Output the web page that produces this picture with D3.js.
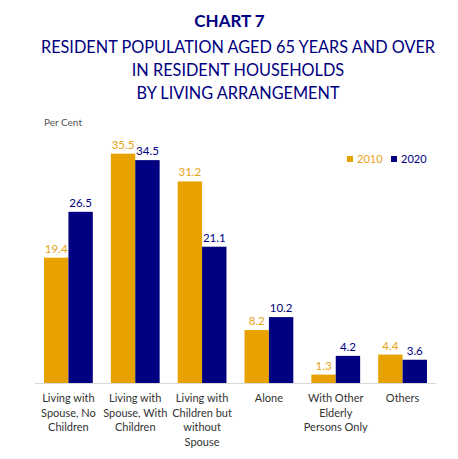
<!DOCTYPE html>
<html><head><meta charset="utf-8">
<script src="https://cdn.jsdelivr.net/npm/d3@7"></script>
<style>body{margin:0;background:#fff}svg{display:block}</style>
</head><body><svg id="c" width="458" height="459"></svg>
<script>
const categories = [
  ["Living with","Spouse, No","Children"],
  ["Living with","Spouse, With","Children"],
  ["Living with","Children but","without","Spouse"],
  ["Alone"],
  ["With Other","Elderly","Persons Only"],
  ["Others"]
];
const series = ["2010","2020"];
const values2010 = [19.4, 35.5, 31.2, 8.2, 1.3, 4.4];
const values2020 = [26.5, 34.5, 21.1, 10.2, 4.2, 3.6];
const colors = ["#E8A200", "#000080"];
const labelColors = ["#E8A317", "#000080"];
const titleLines = ["RESIDENT POPULATION AGED 65 YEARS AND OVER","IN RESIDENT HOUSEHOLDS","BY LIVING ARRANGEMENT"];

const svg = d3.select("#c");
const font = "Lato, 'Open Sans', sans-serif";
const base = 383;
const x0 = d3.scaleBand().domain(d3.range(categories.length)).range([35, 436]).paddingInner(0.27).paddingOuter(0.135);
const x1 = d3.scaleBand().domain(series).range([0, x0.bandwidth()]);
const y = d3.scaleLinear().domain([0, 40]).range([base, base - 40 * 6.46]);

svg.append("text").attr("x", 229.5).attr("y", 27).attr("text-anchor", "middle")
  .attr("font-family", font).attr("font-weight", "bold").attr("font-size", 17).attr("fill", "#000080").text("CHART 7");
titleLines.forEach((t, i) => {
  svg.append("text").attr("x", 238).attr("y", 53 + i * 23).attr("text-anchor", "middle")
    .attr("font-family", font).attr("font-size", 16.3).attr("fill", "#000080").text(t);
});
svg.append("text").attr("x", 44).attr("y", 126).attr("font-family", font).attr("font-size", 10).attr("fill", "#555").text("Per Cent");

// legend
series.forEach((s, i) => {
  const lx = [347, 391][i];
  svg.append("rect").attr("x", lx).attr("y", 156).attr("width", 6).attr("height", 6).attr("fill", colors[i]);
  svg.append("text").attr("x", lx + 10).attr("y", 163).attr("font-family", font).attr("font-size", 11).attr("fill", labelColors[i]).text(s);
});

const data = [values2010, values2020];
const g = svg.append("g");
categories.forEach((c, ci) => {
  series.forEach((s, si) => {
    const v = data[si][ci];
    const bx = x0(ci) + x1(s);
    g.append("rect").attr("x", bx).attr("y", y(v)).attr("width", x1.bandwidth()).attr("height", y(0) - y(v)).attr("fill", colors[si]);
    g.append("text").attr("x", bx + x1.bandwidth() / 2).attr("y", y(v) - 5).attr("text-anchor", "middle")
      .attr("font-family", font).attr("font-size", 11.5).attr("fill", labelColors[si]).text(v.toFixed(1));
  });
  const cx = x0(ci) + x0.bandwidth() / 2;
  c.forEach((line, li) => {
    svg.append("text").attr("x", cx).attr("y", 402 + li * 14.5).attr("text-anchor", "middle")
      .attr("font-family", font).attr("font-size", 11).attr("fill", "#333").text(line);
  });
});
svg.append("line").attr("x1", 35).attr("x2", 436).attr("y1", base + 0.5).attr("y2", base + 0.5).attr("stroke", "#d9d9d9").attr("stroke-width", 1);
</script></body></html>
